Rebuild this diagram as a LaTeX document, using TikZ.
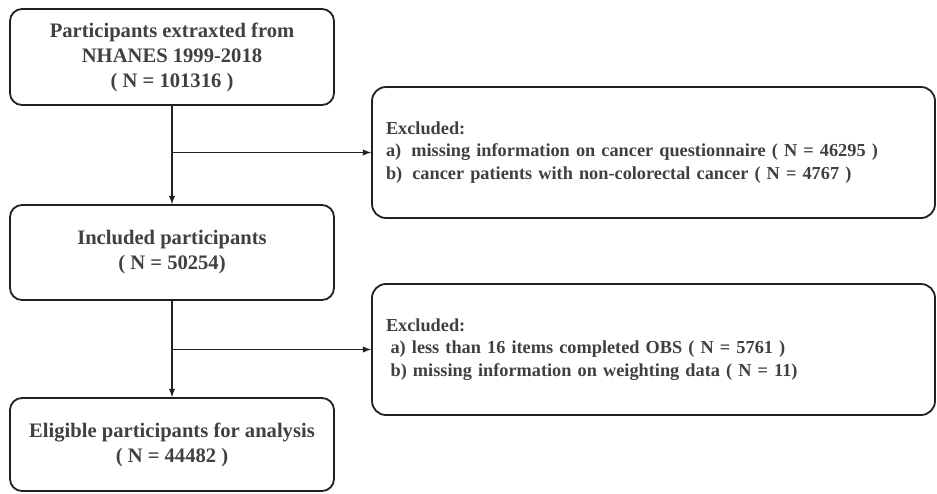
\documentclass[tikz,border=0pt]{standalone}
\usepackage{fontspec}
\setmainfont{Liberation Serif}
\usepackage{tikz}
\usetikzlibrary{arrows}

\definecolor{boxtext}{gray}{0.25}
\definecolor{boxline}{gray}{0.13}

\tikzset{
  mainbox/.style={draw=boxline, line width=1.8pt, rounded corners=12,
    minimum width=324, minimum height=96, align=center, text=boxtext,
    font=\fontsize{20.6}{25}\selectfont\bfseries},
  exbox/.style={draw=boxline, line width=1.8pt, rounded corners=14,
    minimum width=563, minimum height=131, text width=535, inner xsep=14,
    align=left, text=boxtext, font=\fontsize{18.3}{22.5}\selectfont\bfseries},
  flow/.style={draw=boxline, line width=1.8pt, -latex}
}

\begin{document}
\begin{tikzpicture}[x=1pt,y=-1pt]

\useasboundingbox (0,0) rectangle (937,493);

% left column
\node[mainbox] (src) at (172,57)
  {Participants extraxted from\\NHANES 1999-2018\\( N = 101316 )};
\node[mainbox, minimum height=95] (incl) at (172,252.5)
  {Included participants\\( N = 50254)};
\node[mainbox, minimum height=93] (elig) at (172,444.5)
  {Eligible participants for analysis\\( N = 44482 )};

% exclusion boxes
\node[exbox] (excl1) at (653.5,152.5)
  {Excluded:\\
   a)\hspace{0.55em}missing information on cancer questionnaire ( N = 46295 )\\
   b)\hspace{0.55em}cancer patients with non-colorectal cancer ( N = 4767 )};
\node[exbox] (excl2) at (653.5,349.5)
  {Excluded:\\
   \hspace*{0.25em}a) less than 16 items completed OBS ( N = 5761 )\\
   \hspace*{0.25em}b) missing information on weighting data ( N = 11)};

% arrows
\coordinate (br1) at (src.south |- excl1.west);
\coordinate (br2) at (incl.south |- excl2.west);
\draw[flow] (src.south) -- (incl.north);
\draw[flow] (br1) -- (excl1.west);
\draw[flow] (incl.south) -- (elig.north);
\draw[flow] (br2) -- (excl2.west);

\end{tikzpicture}
\end{document}
